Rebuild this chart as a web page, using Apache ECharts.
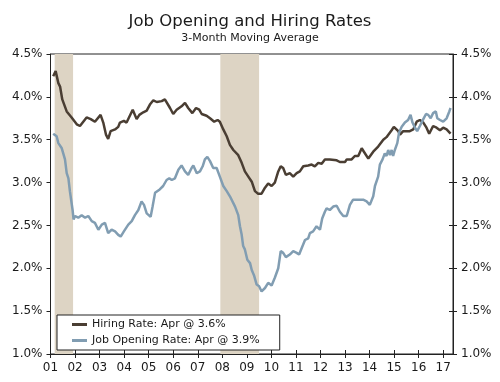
<!DOCTYPE html>
<html>
<head>
<meta charset="utf-8">
<script src="https://cdn.jsdelivr.net/npm/echarts@6/dist/echarts.min.js"></script>
<style>html,body{margin:0;padding:0;background:#fff}#c{width:500px;height:382px}</style>
</head>
<body>
<div id="c"></div>
<script>
// Years shown on the x axis (tick labels are the last two digits)
const yearTicks = [2001,2002,2003,2004,2005,2006,2007,2008,2009,2010,2011,2012,2013,2014,2015,2016,2017];
// Recession periods (decimal years)
const recessions = [[2001.17, 2001.92], [2007.92, 2009.5]];

// Hiring rate (%), 3-month moving average
const hiringDates = [2001.11,2001.21,2001.32,2001.39,2001.48,2001.66,2001.86,2002.07,2002.20,2002.47,2002.64,2002.81,2003.04,2003.15,2003.26,2003.35,2003.45,2003.63,2003.76,2003.83,2003.99,2004.10,2004.35,2004.51,2004.62,2004.78,2004.92,2005.05,2005.19,2005.33,2005.53,2005.66,2005.87,2006.00,2006.14,2006.34,2006.48,2006.61,2006.78,2006.93,2007.06,2007.16,2007.36,2007.50,2007.67,2007.81,2007.90,2008.04,2008.18,2008.31,2008.45,2008.65,2008.79,2008.92,2009.06,2009.20,2009.33,2009.46,2009.60,2009.74,2009.87,2010.01,2010.14,2010.28,2010.38,2010.48,2010.59,2010.75,2010.89,2011.03,2011.16,2011.30,2011.50,2011.64,2011.77,2011.91,2012.05,2012.18,2012.38,2012.66,2012.79,2013.00,2013.07,2013.27,2013.40,2013.54,2013.68,2013.77,2013.95,2014.15,2014.35,2014.56,2014.69,2014.90,2014.99,2015.17,2015.24,2015.37,2015.64,2015.78,2015.92,2016.05,2016.19,2016.32,2016.43,2016.59,2016.73,2016.87,2017.00,2017.14,2017.30];
const hiringValues = [4.24,4.30,4.16,4.12,3.97,3.83,3.76,3.68,3.66,3.76,3.74,3.71,3.79,3.70,3.56,3.51,3.60,3.62,3.65,3.70,3.72,3.70,3.85,3.74,3.79,3.82,3.84,3.91,3.96,3.94,3.95,3.97,3.87,3.80,3.85,3.89,3.93,3.87,3.81,3.87,3.85,3.80,3.78,3.75,3.71,3.73,3.71,3.62,3.54,3.44,3.38,3.32,3.23,3.13,3.07,3.01,2.90,2.87,2.87,2.94,2.99,2.96,3.00,3.13,3.19,3.17,3.09,3.11,3.07,3.11,3.13,3.19,3.20,3.21,3.19,3.23,3.22,3.27,3.27,3.26,3.24,3.24,3.27,3.27,3.31,3.31,3.40,3.36,3.28,3.36,3.42,3.50,3.53,3.61,3.65,3.60,3.56,3.60,3.60,3.62,3.71,3.73,3.70,3.64,3.57,3.66,3.64,3.61,3.64,3.62,3.57];

// Job opening rate (%), 3-month moving average
const openingDates = [2001.11,2001.25,2001.32,2001.46,2001.59,2001.66,2001.73,2001.79,2001.90,2001.94,2002.00,2002.13,2002.27,2002.41,2002.54,2002.68,2002.81,2002.95,2003.09,2003.22,2003.35,2003.49,2003.63,2003.76,2003.86,2003.99,2004.17,2004.31,2004.44,2004.58,2004.71,2004.81,2004.92,2005.08,2005.16,2005.26,2005.45,2005.59,2005.73,2005.84,2005.94,2006.07,2006.21,2006.34,2006.48,2006.61,2006.75,2006.82,2006.96,2007.09,2007.20,2007.29,2007.39,2007.50,2007.63,2007.77,2007.90,2008.04,2008.18,2008.31,2008.52,2008.65,2008.72,2008.79,2008.85,2008.92,2009.02,2009.13,2009.20,2009.29,2009.40,2009.50,2009.60,2009.74,2009.87,2010.01,2010.14,2010.28,2010.38,2010.48,2010.59,2010.75,2010.89,2011.03,2011.13,2011.27,2011.37,2011.50,2011.57,2011.70,2011.84,2011.98,2012.07,2012.18,2012.25,2012.38,2012.52,2012.66,2012.79,2012.93,2013.07,2013.20,2013.33,2013.74,2013.88,2014.01,2014.15,2014.22,2014.35,2014.42,2014.53,2014.62,2014.69,2014.76,2014.83,2014.90,2014.96,2015.03,2015.13,2015.20,2015.31,2015.44,2015.57,2015.67,2015.75,2015.85,2015.94,2016.05,2016.19,2016.30,2016.39,2016.49,2016.59,2016.70,2016.76,2016.87,2017.00,2017.14,2017.25,2017.30];
const openingValues = [3.57,3.54,3.46,3.40,3.27,3.11,3.05,2.90,2.68,2.57,2.61,2.59,2.62,2.59,2.61,2.55,2.53,2.45,2.51,2.53,2.41,2.45,2.43,2.39,2.37,2.43,2.51,2.55,2.62,2.68,2.78,2.74,2.64,2.60,2.72,2.88,2.92,2.96,3.03,3.05,3.03,3.05,3.15,3.20,3.13,3.09,3.17,3.20,3.11,3.13,3.19,3.27,3.30,3.25,3.17,3.17,3.07,2.96,2.90,2.84,2.72,2.62,2.49,2.39,2.26,2.22,2.10,2.06,1.98,1.92,1.81,1.79,1.73,1.77,1.83,1.80,1.89,2.00,2.20,2.18,2.13,2.16,2.20,2.18,2.16,2.26,2.33,2.35,2.41,2.43,2.49,2.45,2.58,2.66,2.70,2.68,2.72,2.73,2.66,2.61,2.61,2.74,2.80,2.80,2.78,2.74,2.84,2.96,3.07,3.21,3.27,3.34,3.31,3.38,3.32,3.38,3.31,3.38,3.46,3.58,3.65,3.70,3.73,3.79,3.70,3.64,3.60,3.66,3.74,3.80,3.79,3.75,3.81,3.83,3.75,3.73,3.71,3.75,3.83,3.87];

const seriesNames = ['Hiring Rate: Apr @ 3.6%', 'Job Opening Rate: Apr @ 3.9%'];
const FONT = 'DejaVu Sans';
const HIRE_COLOR = '#4a3e33';
const OPEN_COLOR = '#819db2';
const zip = (a, b) => a.map((v, i) => [v, b[i]]);

const chart = echarts.init(document.getElementById('c'), null, {renderer: 'canvas'});
const yBase = {type: 'value', min: 1, max: 4.5, interval: 0.5, splitLine: {show: false}};
const xBase = {type: 'value', min: 2001, max: 2017.4, splitLine: {show: false}};
chart.setOption({
  animation: false,
  textStyle: {fontFamily: FONT},
  title: {
    text: 'Job Opening and Hiring Rates',
    subtext: '3-Month Moving Average',
    left: 'center', top: 8, itemGap: 3,
    textStyle: {fontFamily: FONT, fontSize: 16.5, fontWeight: 'normal', color: '#1a1a1a'},
    subtextStyle: {fontFamily: FONT, fontSize: 11, color: '#1a1a1a'}
  },
  grid: {left: 50.5, right: 47, top: 54, bottom: 28, show: true, borderColor: '#222', borderWidth: 1, backgroundColor: 'transparent'},
  legend: {
    data: [
      {name: seriesNames[0], icon: 'rect', itemStyle: {color: HIRE_COLOR}},
      {name: seriesNames[1], icon: 'rect', itemStyle: {color: OPEN_COLOR}}
    ],
    orient: 'vertical', left: 57, top: 315,
    padding: [3, 20, 3, 15], itemGap: 3, itemWidth: 15, itemHeight: 3,
    borderColor: '#222', borderWidth: 1, backgroundColor: '#fff',
    textStyle: {fontFamily: FONT, fontSize: 11, color: '#1a1a1a', lineHeight: 13},
    z: 10
  },
  xAxis: [
    Object.assign({}, xBase, {
      position: 'bottom',
      axisLine: {lineStyle: {color: '#222', width: 1}},
      axisTick: {show: true, length: 4, inside: false, customValues: yearTicks, lineStyle: {color: '#222'}},
      axisLabel: {customValues: yearTicks, margin: 8, fontSize: 12, color: '#1a1a1a', fontFamily: FONT,
        formatter: v => String(Math.round(v) % 100).padStart(2, '0')}
    }),
    Object.assign({}, xBase, {
      position: 'bottom',
      axisLine: {show: false},
      axisTick: {show: true, length: 4, inside: true, customValues: yearTicks, lineStyle: {color: '#222'}},
      axisLabel: {show: false}
    })
  ],
  yAxis: [
    Object.assign({}, yBase, {
      position: 'left',
      axisLine: {show: true, lineStyle: {color: '#222'}},
      axisTick: {show: true, length: 4, lineStyle: {color: '#222'}},
      axisLabel: {fontSize: 12, color: '#1a1a1a', margin: 8, fontFamily: FONT, formatter: v => v.toFixed(1) + '%'}
    }),
    Object.assign({}, yBase, {
      position: 'right',
      axisLine: {show: true, lineStyle: {color: '#222'}},
      axisTick: {show: true, length: 4, lineStyle: {color: '#222'}},
      axisLabel: {fontSize: 12, color: '#1a1a1a', margin: 8, fontFamily: FONT, formatter: v => v.toFixed(1) + '%'}
    }),
    Object.assign({}, yBase, {
      position: 'right',
      axisLine: {show: false},
      axisTick: {show: true, length: 4, inside: true, lineStyle: {color: '#222'}},
      axisLabel: {show: false}
    })
  ],
  series: [
    {
      name: 'recessions', type: 'line', data: [], z: 1, silent: true,
      markArea: {
        silent: true,
        itemStyle: {color: '#ddd4c4', opacity: 1},
        data: recessions.map(r => [{xAxis: r[0]}, {xAxis: r[1]}])
      }
    },
    {
      name: seriesNames[0], type: 'line', data: zip(hiringDates, hiringValues),
      symbol: 'none', z: 3,
      lineStyle: {color: HIRE_COLOR, width: 2.5}, itemStyle: {color: HIRE_COLOR}
    },
    {
      name: seriesNames[1], type: 'line', data: zip(openingDates, openingValues),
      symbol: 'none', z: 3,
      lineStyle: {color: OPEN_COLOR, width: 2.5}, itemStyle: {color: OPEN_COLOR}
    }
  ]
});
</script>
</body>
</html>
